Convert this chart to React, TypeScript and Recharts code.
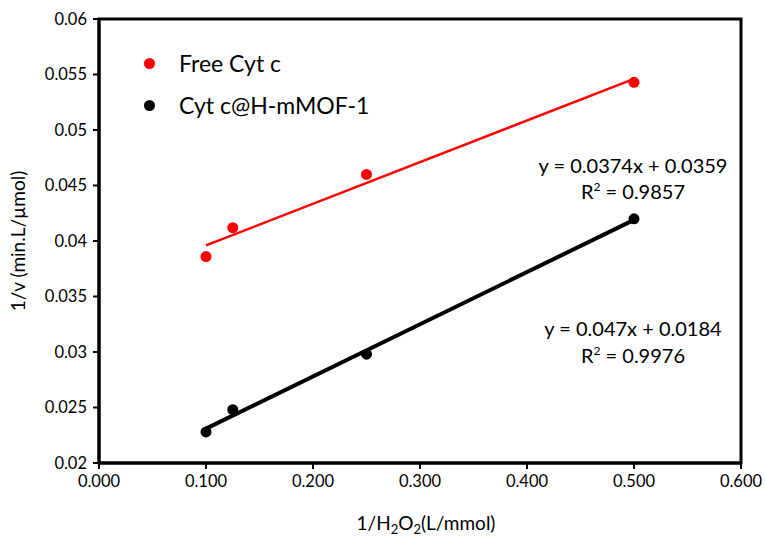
import {
  ReferenceArea,
  Scatter,
  ScatterChart,
  XAxis,
  YAxis,
} from "recharts";

const X_TICKS = [0, 0.1, 0.2, 0.3, 0.4, 0.5, 0.6];
const Y_TICKS = [0.02, 0.025, 0.03, 0.035, 0.04, 0.045, 0.05, 0.055, 0.06];

const H2O2_INV = [0.1, 0.125, 0.25, 0.5];
const FREE_CYT = [0.0386, 0.0412, 0.046, 0.0543];
const MOF_CYT = [0.0228, 0.0248, 0.0298, 0.042];

// trendline ends
const FIT_X = [0.1, 0.5];
const FIT_FREE = [0.0396, 0.0546];
const FIT_MOF = [0.0231, 0.0419];

const FREE_EQ = ["y = 0.0374x + 0.0359", "0.9857"];
const MOF_EQ = ["y = 0.047x + 0.0184", "0.9976"];

const FONT = "Lato, 'Open Sans', sans-serif";

const toPts = (xs: number[], ys: number[]) => xs.map((x, i) => ({ x, y: ys[i] }));

function Dot({ cx, cy, fill }: { cx?: number; cy?: number; fill?: string }) {
  if (cx == null || cy == null) return <g />;
  return <circle cx={cx} cy={cy} r={5.5} fill={fill} />;
}

function XTitle({ viewBox }: { viewBox?: { x: number; y: number; width: number; height: number } }) {
  if (!viewBox) return null;
  const cx = viewBox.x + viewBox.width / 2 + 6;
  const cy = viewBox.y + 67;
  return (
    <text x={cx} y={cy} textAnchor="middle" fontSize={19} fill="#000" fontFamily={FONT}>
      1/H
      <tspan dy={4} fontSize={13}>2</tspan>
      <tspan dy={-4}>O</tspan>
      <tspan dy={4} fontSize={13}>2</tspan>
      <tspan dy={-4}>(L/mmol)</tspan>
    </text>
  );
}

function Eq({ top, lines, gap }: { top: number; lines: string[]; gap: number }) {
  return (
    <div
      style={{
        position: "absolute",
        left: 513,
        top,
        width: 240,
        textAlign: "center",
        fontFamily: FONT,
        fontSize: 20,
        lineHeight: `${gap}px`,
        color: "#000",
      }}
    >
      <div>{lines[0]}</div>
      <div>
        R<sup style={{ fontSize: 12, lineHeight: 0 }}>2</sup> = {lines[1]}
      </div>
    </div>
  );
}

function LegendRow({ color, label, top }: { color: string; label: string; top: number }) {
  return (
    <div
      style={{
        position: "absolute",
        left: 144,
        top,
        height: 30,
        display: "flex",
        alignItems: "center",
        fontFamily: FONT,
        fontSize: 23,
        color: "#000",
      }}
    >
      <span
        style={{ width: 11, height: 11, borderRadius: 6, background: color, marginRight: 24 }}
      />
      {label}
    </div>
  );
}

export default function App() {
  return (
    <div
      style={{
        position: "fixed",
        top: 0,
        left: 0,
        width: 765,
        height: 539,
        background: "#fff",
      }}
    >
      <ScatterChart width={765} height={539} margin={{ top: 19, right: 24, bottom: 0, left: 0 }}>
        <XAxis
          type="number"
          dataKey="x"
          domain={[0, 0.6]}
          ticks={X_TICKS}
          tickFormatter={(v: number) => v.toFixed(3)}
          tick={{ fontSize: 16.5, fill: "#000", fontFamily: FONT }}
          tickLine={{ stroke: "#000", strokeWidth: 2 }}
          tickSize={6}
          tickMargin={6}
          axisLine={{ stroke: "#000", strokeWidth: 3 }}
          height={76}
          label={<XTitle />}
        />
        <YAxis
          type="number"
          dataKey="y"
          domain={[0.02, 0.06]}
          ticks={Y_TICKS}
          tick={{ fontSize: 16.5, fill: "#000", fontFamily: FONT }}
          tickLine={{ stroke: "#000", strokeWidth: 2 }}
          tickSize={6}
          tickMargin={6}
          axisLine={{ stroke: "#000", strokeWidth: 3 }}
          width={99}
          label={{
            value: "1/v (min.L/µmol)",
            angle: -90,
            position: "insideLeft",
            offset: 18,
            style: { fontSize: 19, fill: "#000", fontFamily: FONT, textAnchor: "middle" },
          }}
        />
        <ReferenceArea
          x1={0}
          x2={0.6}
          y1={0.02}
          y2={0.06}
          fill="none"
          stroke="#000"
          strokeWidth={3}
          ifOverflow="visible"
        />
        <Scatter
          data={toPts(FIT_X, FIT_FREE)}
          line={{ stroke: "#ff0000", strokeWidth: 2.5 }}
          shape={() => <g />}
          isAnimationActive={false}
        />
        <Scatter
          data={toPts(FIT_X, FIT_MOF)}
          line={{ stroke: "#000", strokeWidth: 4 }}
          shape={() => <g />}
          isAnimationActive={false}
        />
        <Scatter
          data={toPts(H2O2_INV, FREE_CYT)}
          fill="#ff0000"
          shape={<Dot />}
          isAnimationActive={false}
        />
        <Scatter
          data={toPts(H2O2_INV, MOF_CYT)}
          fill="#000"
          shape={<Dot />}
          isAnimationActive={false}
        />
      </ScatterChart>
      <LegendRow color="#ff0000" label="Free Cyt c" top={48} />
      <LegendRow color="#000" label="Cyt c@H-mMOF-1" top={90} />
      <Eq top={152} lines={FREE_EQ} gap={26} />
      <Eq top={315} lines={MOF_EQ} gap={27} />
    </div>
  );
}
